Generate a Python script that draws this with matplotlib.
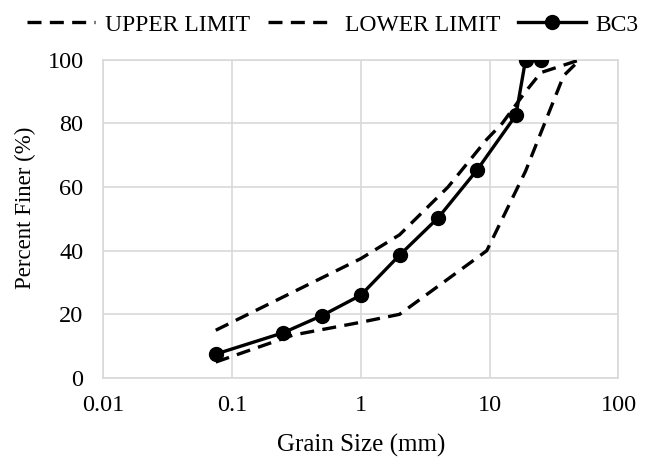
import matplotlib
matplotlib.use("Agg")
import matplotlib.pyplot as plt
from matplotlib.ticker import FixedLocator, FixedFormatter, NullLocator

plt.rcParams['font.family'] = ['Liberation Serif', 'DejaVu Serif']

upper_x = [0.075, 1, 2, 4.75, 9.5, 12.5, 19, 25, 50]
upper_y = [15, 37.5, 45, 60, 75, 80, 90, 96, 100]
lower_x = [0.075, 0.3, 1, 2, 9.5, 19, 37.5, 50]
lower_y = [5, 13.5, 17.5, 20, 40, 65, 95, 100]
bc3_x = [0.075, 0.25, 0.5, 1, 2, 4, 8, 16, 19, 25]
bc3_y = [7.5, 14.2, 19.6, 26, 38.6, 50.4, 65.4, 82.6, 100, 100]
x_ticks = [0.01, 0.1, 1, 10, 100]
x_tick_labels = ["0.01", "0.1", "1", "10", "100"]
y_ticks = [0, 20, 40, 60, 80, 100]

fig = plt.figure(figsize=(6.49, 4.57), dpi=100)
ax = fig.add_axes([0.1587, 0.173, 0.7943, 0.696])

dash = (0, (4.2, 2.5))
ax.plot(upper_x, upper_y, color='black', lw=2.4, ls=dash, label='UPPER LIMIT', zorder=3)
ax.plot(lower_x, lower_y, color='black', lw=2.4, ls=dash, label='LOWER LIMIT', zorder=3)
ax.plot(bc3_x, bc3_y, color='black', lw=2.4, marker='o', markersize=10, label='BC3', zorder=4)

ax.set_xscale('log')
ax.set_xlim(0.01, 100)
ax.set_ylim(0, 100)
ax.xaxis.set_major_locator(FixedLocator(x_ticks))
ax.xaxis.set_major_formatter(FixedFormatter(x_tick_labels))
ax.xaxis.set_minor_locator(NullLocator())
ax.set_yticks(y_ticks)
ax.grid(True, color='#d9d9d9', lw=1.2)
ax.set_axisbelow(True)
for s in ax.spines.values():
    s.set_color('#d9d9d9')
    s.set_linewidth(1.2)
ax.tick_params(axis='x', length=0, labelsize=17.5, pad=12)
ax.tick_params(axis='y', length=0, labelsize=17.5, pad=14)
ax.set_xlabel('Grain Size (mm)', fontsize=18)
ax.set_ylabel('Percent Finer (%)', fontsize=16.5)
ax.xaxis.set_label_coords(0.5, -0.175)
ax.yaxis.set_label_coords(-0.13, 0.535)

fig.legend(loc='upper center', bbox_to_anchor=(0.513, 0.995), ncol=3, frameon=False,
           fontsize=17, handlelength=2.85, columnspacing=0.76, handletextpad=0.42,
           borderaxespad=0.1)

fig.savefig('out.png', dpi=100)
